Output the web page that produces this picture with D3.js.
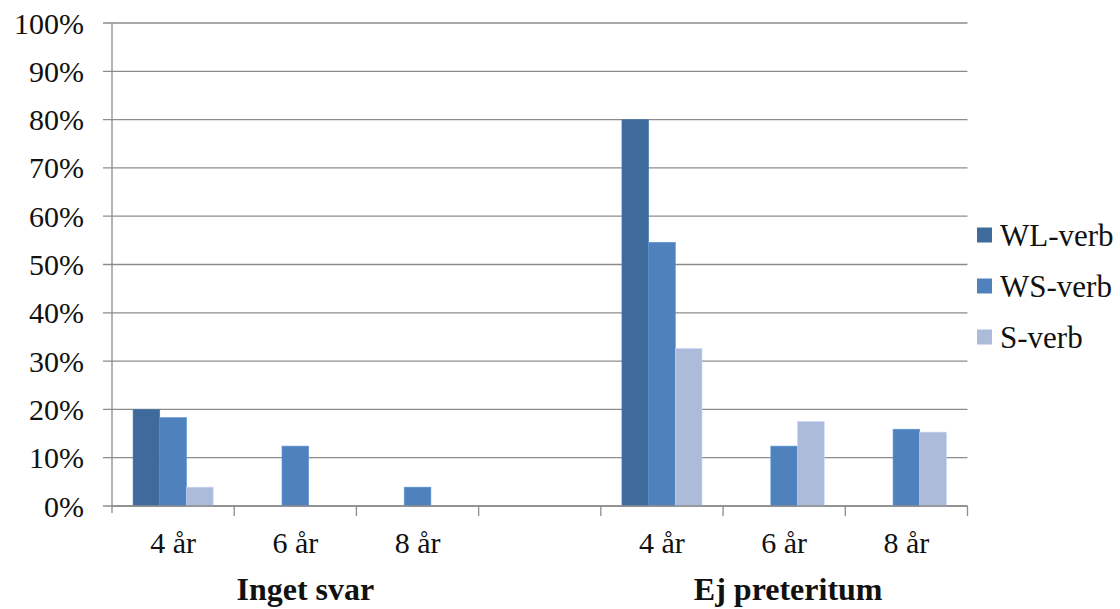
<!DOCTYPE html>
<html>
<head>
<meta charset="utf-8">
<script src="https://cdn.jsdelivr.net/npm/d3@7"></script>
<style>
  html, body { margin: 0; padding: 0; background: #fff; }
  svg { display: block; }
</style>
</head>
<body>
<svg id="chart" width="1120" height="609"></svg>
<script>
// Category slots along the x axis (an empty slot separates the two groups)
const categories = ["4 år", "6 år", "8 år", "", "4 år", "6 år", "8 år"];
const groups = ["Inget svar", "Ej preteritum"];
const groupSlots = [[0, 2], [4, 6]];
const seriesNames = ["WL-verb", "WS-verb", "S-verb"];
const seriesColors = ["#3f6a9c", "#4f81bd", "#abbbd9"];

// Percentages per slot, one array per series
const wlVerb = [20, 0, 0, null, 80, 0, 0];
const wsVerb = [18.3, 12.4, 3.9, null, 54.6, 12.4, 15.9];
const sVerb  = [3.9, 0, 0, null, 32.6, 17.5, 15.3];
const seriesValues = [wlVerb, wsVerb, sVerb];

const yTicks = [0, 10, 20, 30, 40, 50, 60, 70, 80, 90, 100];

const FONT = '"Liberation Serif", "Times New Roman", Times, Tinos, "Noto Serif", "DejaVu Serif", FreeSerif, serif';
const svg = d3.select("#chart").style("font-family", FONT);
const plotLeft = 112, plotRight = 967.5, plotTop = 23, plotBottom = 506;

const x = d3.scaleBand().domain(d3.range(categories.length)).range([plotLeft, plotRight]).paddingInner(0).paddingOuter(0);
const x1 = d3.scaleBand().domain(d3.range(seriesNames.length)).range([0, x.bandwidth()]).paddingInner(0).paddingOuter(0.79);
const y = d3.scaleLinear().domain([0, 100]).range([plotBottom, plotTop]);

// Horizontal gridlines with small ticks left of the axis
svg.append("g").selectAll("line").data(yTicks).join("line")
  .attr("x1", plotLeft - 9).attr("x2", plotRight)
  .attr("y1", d => y(d)).attr("y2", d => y(d))
  .attr("stroke", "#8c8c8c").attr("stroke-width", 1.3);

// Y tick labels
svg.append("g").selectAll("text").data(yTicks).join("text")
  .attr("x", 84).attr("y", d => y(d))
  .attr("dy", "0.35em")
  .attr("text-anchor", "end")
  .style("font-family", FONT)
  .attr("font-size", 30)
  .attr("fill", "#111")
  .text(d => d + "%");

// Bars
const barG = svg.append("g");
seriesValues.forEach((vals, si) => {
  barG.selectAll(null).data(vals.map((v, i) => ({ v, i })).filter(d => d.v))
    .join("rect")
    .attr("x", d => x(d.i) + x1(si))
    .attr("width", x1.bandwidth())
    .attr("y", d => y(d.v))
    .attr("height", d => y(0) - y(d.v))
    .attr("fill", seriesColors[si])
    .attr("stroke", d3.color(seriesColors[si]).brighter(0.4))
    .attr("stroke-width", 0.6);
});

// Axis lines
svg.append("line").attr("x1", plotLeft).attr("x2", plotLeft).attr("y1", plotTop).attr("y2", plotBottom + 7)
  .attr("stroke", "#8c8c8c").attr("stroke-width", 1.3);
svg.append("line").attr("x1", plotLeft).attr("x2", plotRight).attr("y1", plotBottom).attr("y2", plotBottom)
  .attr("stroke", "#8c8c8c").attr("stroke-width", 1.3);

// Category boundary ticks below the x axis
const boundaries = d3.range(1, categories.length + 1).map(i => plotLeft + i * x.bandwidth());
svg.append("g").selectAll("line").data(boundaries).join("line")
  .attr("x1", d => d).attr("x2", d => d)
  .attr("y1", plotBottom).attr("y2", plotBottom + 10)
  .attr("stroke", "#8c8c8c").attr("stroke-width", 1.3);

// Category labels
svg.append("g").selectAll("text").data(categories.map((c, i) => ({ c, i })).filter(d => d.c))
  .join("text")
  .attr("x", d => x(d.i) + x.bandwidth() / 2)
  .attr("y", 553)
  .attr("text-anchor", "middle")
  .style("font-family", FONT)
  .attr("font-size", 30)
  .attr("fill", "#111")
  .text(d => d.c);

// Group labels
const groupOffsets = [10, 4];
svg.append("g").selectAll("text").data(groups).join("text")
  .attr("x", (g, gi) => (x(groupSlots[gi][0]) + x(groupSlots[gi][1]) + x.bandwidth()) / 2 + groupOffsets[gi])
  .attr("y", 600)
  .attr("text-anchor", "middle")
  .style("font-family", FONT)
  .attr("font-size", 32)
  .attr("font-weight", "bold")
  .attr("fill", "#111")
  .text(g => g);

// Legend
const legend = svg.append("g").selectAll("g").data(seriesNames).join("g")
  .attr("transform", (d, i) => `translate(977, ${235 + i * 51})`);
legend.append("rect").attr("x", 0).attr("y", -7.5).attr("width", 15).attr("height", 15)
  .attr("fill", (d, i) => seriesColors[i]);
legend.append("text").attr("x", 23).attr("y", 0).attr("dy", "0.35em")
  .style("font-family", FONT)
  .attr("font-size", 31).attr("fill", "#111").text(d => d);
</script>
</body>
</html>
